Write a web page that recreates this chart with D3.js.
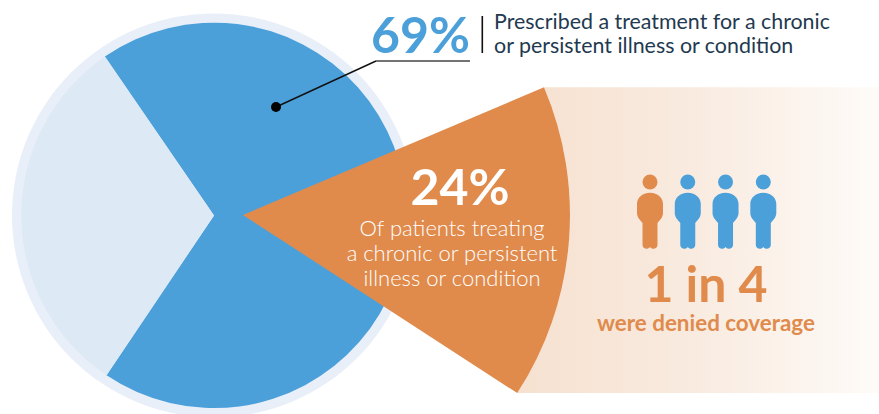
<!DOCTYPE html>
<html>
<head>
<meta charset="utf-8">
<script src="https://cdnjs.cloudflare.com/ajax/libs/d3/7.8.5/d3.min.js"></script>
<style>
  html, body { margin: 0; padding: 0; background: #fff; }
  svg { display: block; }
  text { font-family: Lato, "Open Sans", sans-serif; }
</style>
</head>
<body>
<div id="chart"></div>
<script>
// values
const pieLabels = ["Prescribed", "Not prescribed"];
const pieValues = [69, 31];
const deniedOf = ["denied", "covered", "covered", "covered"];
const calloutLines = ["Prescribed a treatment for a chronic", "or persistent illness or condition"];
const wedgeLines = ["Of patients treating", "a chronic or persistent", "illness or condition"];

const blue = "#4ca0da", pale = "#dee9f6", ring = "#e8eff9", orange = "#e08b4c", ink = "#1f3a50";

const width = 879, height = 414;
const cx = 214, cy = 215.4, r = 192.7;
const rad = d => d * Math.PI / 180;

const svg = d3.select("#chart").append("svg")
  .attr("width", width)
  .attr("height", height);

// background band fading out to the right
const defs = svg.append("defs");
const fade = defs.append("linearGradient").attr("id", "fade");
fade.append("stop").attr("offset", "0%").attr("stop-color", "#f6e1d0");
fade.append("stop").attr("offset", "50%").attr("stop-color", "#f9ebe0");
fade.append("stop").attr("offset", "100%").attr("stop-color", "#fefbf8");

// big pie
svg.append("circle").attr("cx", cx).attr("cy", cy).attr("r", 202).attr("fill", ring);

const pie = d3.pie().sort(null)
  .startAngle(rad(-34.5))
  .endAngle(rad(-34.5) + 2 * Math.PI);
const arc = d3.arc().innerRadius(0).outerRadius(r);

svg.append("g")
  .attr("transform", `translate(${cx},${cy})`)
  .selectAll("path")
  .data(pie(pieValues))
  .join("path")
  .attr("d", arc)
  .attr("fill", (d, i) => i == 0 ? blue : pale);

// wedge pulled out of the pie
const apexX = 243, apexY = 215, wedgeR = 327;
const wedgeStart = rad(67), wedgeEnd = rad(123);
const polar = a => [apexX + wedgeR * Math.sin(a), apexY - wedgeR * Math.cos(a)];
const wedgeTop = polar(wedgeStart), wedgeBottom = polar(wedgeEnd);

const band = d3.path();
band.moveTo(wedgeTop[0], wedgeTop[1]);
band.lineTo(width, wedgeTop[1]);
band.lineTo(width, wedgeBottom[1]);
band.lineTo(wedgeBottom[0], wedgeBottom[1]);
band.arc(apexX, apexY, wedgeR, wedgeEnd - Math.PI / 2, wedgeStart - Math.PI / 2, true);
band.closePath();
svg.append("path").attr("d", band.toString()).attr("fill", "url(#fade)");

svg.append("path")
  .attr("transform", `translate(${apexX},${apexY})`)
  .attr("d", d3.arc().innerRadius(0).outerRadius(wedgeR).startAngle(wedgeStart).endAngle(wedgeEnd)())
  .attr("fill", orange);

// leader line
svg.append("path")
  .attr("d", d3.line()([[276, 107], [376, 61]]))
  .attr("fill", "none").attr("stroke", "#111").attr("stroke-width", 1.4);
svg.append("path")
  .attr("d", d3.line()([[376, 61], [470, 61]]))
  .attr("fill", "none").attr("stroke", "#444").attr("stroke-width", 1.4);
svg.append("circle").attr("cx", 276).attr("cy", 107).attr("r", 5).attr("fill", "#000");

svg.append("text")
  .attr("x", 470).attr("y", 53)
  .attr("text-anchor", "end")
  .attr("font-size", 50).attr("font-weight", 700)
  .attr("fill", blue)
  .text(pieValues[0] + "%");

svg.append("rect").attr("x", 481.5).attr("y", 16).attr("width", 1.6).attr("height", 37).attr("fill", "#111");

svg.selectAll("text.callout")
  .data(calloutLines)
  .join("text")
  .attr("class", "callout")
  .attr("x", 494)
  .attr("y", (d, i) => 29 + i * 24)
  .attr("font-size", 21.4)
  .attr("fill", ink)
  .text(d => d);

// wedge text
svg.append("text")
  .attr("x", 460).attr("y", 205)
  .attr("text-anchor", "middle")
  .attr("font-size", 50).attr("font-weight", 700)
  .attr("fill", "#fff")
  .text("24%");

svg.selectAll("text.wedge")
  .data(wedgeLines)
  .join("text")
  .attr("class", "wedge")
  .attr("x", 452)
  .attr("y", (d, i) => 236 + i * 25)
  .attr("text-anchor", "middle")
  .attr("font-size", 22).attr("font-weight", 300)
  .attr("fill", "#fff")
  .text(d => d);

// people
const xPerson = d3.scalePoint()
  .domain(d3.range(deniedOf.length))
  .range([650, 763.3]);
const body = "M0,10.7C8,10.7 13,16 13,22L13,31C13,35 10,38 7.5,41L7.5,63C7.5,67 2,68 0,65C-2,68 -7.5,67 -7.5,63L-7.5,41C-10,38 -13,35 -13,31L-13,22C-13,16 -8,10.7 0,10.7Z";

const people = svg.selectAll("g.person")
  .data(deniedOf)
  .join("g")
  .attr("class", "person")
  .attr("transform", (d, i) => `translate(${xPerson(i)},182)`)
  .attr("fill", d => d == "denied" ? orange : blue);
people.append("circle").attr("r", 7.5);
people.append("path").attr("d", body);

svg.append("text")
  .attr("x", 706).attr("y", 302)
  .attr("text-anchor", "middle")
  .attr("font-size", 50).attr("font-weight", 700)
  .attr("fill", orange)
  .text("1 in 4");

svg.append("text")
  .attr("x", 706).attr("y", 331)
  .attr("text-anchor", "middle")
  .attr("font-size", 22.4).attr("font-weight", 700)
  .attr("fill", orange)
  .text("were denied coverage");
</script>
</body>
</html>
